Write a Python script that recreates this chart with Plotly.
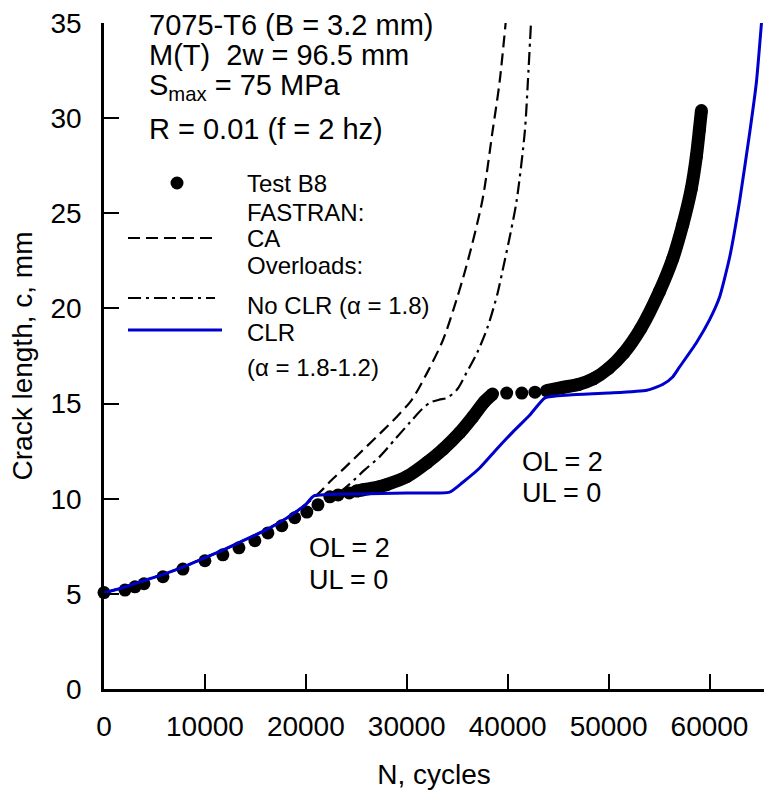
import plotly.graph_objects as go

# ---------------- data ----------------
# Test B8 - isolated dots
test_sparse_n = [0, 2080, 3070, 3960, 5840, 7820, 10000, 11780, 13370, 14950, 16240,
                 17620, 18900, 20100, 21200, 22380, 23200, 24300, 39900, 41400, 42700]
test_sparse_c = [5.07, 5.2, 5.37, 5.53, 5.9, 6.3, 6.74, 7.05, 7.42, 7.79, 8.2,
                 8.58, 9.0, 9.3, 9.68, 10.1, 10.2, 10.3, 15.55, 15.55, 15.6]
# Test B8 - densely recorded stretches
test_dense1_n = [25000, 25650, 27300, 28000, 30000, 32000, 33600, 35250, 36550, 37700, 38500]
test_dense1_c = [10.4, 10.47, 10.63, 10.74, 11.16, 11.9, 12.6, 13.47, 14.3, 15.1, 15.5]
test_dense2_n = [43850, 45450, 47000, 48500, 50000, 51500, 53200, 55050, 56350, 57350,
                 58200, 58700, 59000, 59200]
test_dense2_c = [15.68, 15.85, 16.0, 16.3, 16.85, 17.65, 18.95, 20.9, 22.6, 24.4,
                 26.3, 28.0, 29.4, 30.4]

# FASTRAN: CA
ca_n = [0, 2000, 4000, 6000, 8000, 10000, 12000, 14000, 16000, 18000, 20000, 21600,
        22400, 24000, 25650, 27300, 29000, 30500, 32000, 33560, 34600, 35900, 37500,
        38500, 39200, 39800]
ca_c = [5.05, 5.35, 5.7, 6.05, 6.45, 6.9, 7.35, 7.85, 8.35, 8.95, 9.7, 10.45,
        10.9, 11.7, 12.55, 13.4, 14.3, 15.2, 16.6, 18.3, 19.9, 22.2, 25.7,
        29.3, 31.9, 35.0]

# Overloads: No CLR (alpha = 1.8)
nclr_n = [0, 2000, 4000, 6000, 8000, 10000, 12000, 14000, 16000, 18000, 20000, 20800,
          22000, 23200, 24300, 25800, 27300, 28800, 30300, 31500, 32300, 33200, 34000,
          35000, 35900, 37000, 38000, 39000, 39500, 40300, 40900, 41700, 42000, 42300]
nclr_c = [5.05, 5.35, 5.7, 6.05, 6.45, 6.9, 7.35, 7.85, 8.35, 8.95, 9.7, 10.15,
          10.2, 10.3, 10.75, 11.5, 12.2, 13.1, 14.0, 14.7, 15.05, 15.2, 15.3,
          15.75, 16.6, 17.7, 19.0, 20.8, 22.0, 24.0, 25.7, 29.3, 31.9, 34.9]

# Overloads: CLR (alpha = 1.8-1.2)
clr_n = [0, 2000, 4000, 6000, 8000, 10000, 12000, 14000, 16000, 18000, 20000, 20800,
         25000, 30000, 34250, 35500, 37200, 38900, 40500, 42200, 43700, 46100, 50000,
         53800, 55350, 56350, 57000, 58700, 60000, 61000, 62000, 63000, 64000, 64650, 65150]
clr_c = [5.05, 5.35, 5.7, 6.05, 6.45, 6.9, 7.35, 7.85, 8.35, 8.95, 9.7, 10.15,
         10.25, 10.3, 10.35, 10.84, 11.6, 12.6, 13.5, 14.4, 15.3, 15.45, 15.55,
         15.7, 16.0, 16.4, 16.9, 18.2, 19.4, 20.6, 22.7, 25.7, 29.3, 31.9, 35.0]

x_ticks = [0, 10000, 20000, 30000, 40000, 50000, 60000]
y_ticks = [0, 5, 10, 15, 20, 25, 30, 35]

header_lines = ["7075-T6 (B = 3.2 mm)", "M(T)\u00a0 2w = 96.5 mm",
                "S<sub>max</sub> = 75 MPa", "R = 0.01 (f = 2 hz)"]
legend_lines = ["Test B8", "FASTRAN:", "CA", "Overloads:", "No CLR (\u03b1 = 1.8)",
                "CLR", "(\u03b1 = 1.8-1.2)"]

# ---------------- layout geometry ----------------
W, H = 764, 790
ML, MR, MT, MB = 104, 0, 23, 101
PW, PH = W - ML - MR, H - MT - MB
FONT = "Arial, Liberation Sans, sans-serif"
BLUE = "#0000cc"


def px(x):
    return (x - ML) / PW


def py(y):
    return (H - MB - y) / PH


fig = go.Figure()

# model curves
fig.add_trace(go.Scatter(x=ca_n, y=ca_c, mode="lines", cliponaxis=False,
                         line=dict(color="black", width=2.2, dash="12px,6px",
                                   shape="spline", smoothing=0.8)))
fig.add_trace(go.Scatter(x=nclr_n, y=nclr_c, mode="lines", cliponaxis=False,
                         line=dict(color="black", width=2.2, dash="13px,5px,3px,5px",
                                   shape="spline", smoothing=0.8)))

# test data
DOT = 13
for dn, dc in [(test_dense1_n, test_dense1_c), (test_dense2_n, test_dense2_c)]:
    fig.add_trace(go.Scatter(x=dn, y=dc, mode="lines+markers", cliponaxis=False,
                             line=dict(color="black", width=DOT, shape="spline",
                                       smoothing=0.8),
                             marker=dict(color="black", size=DOT)))
fig.add_trace(go.Scatter(x=test_sparse_n, y=test_sparse_c, mode="markers",
                         cliponaxis=False, marker=dict(color="black", size=DOT)))

fig.add_trace(go.Scatter(x=clr_n, y=clr_c, mode="lines", cliponaxis=False,
                         line=dict(color=BLUE, width=3, shape="spline", smoothing=0.5)))

annotations = []
header_y = [25, 55, 87, 129]
for t, yy in zip(header_lines, header_y):
    annotations.append(dict(text=t, x=px(147), y=py(yy), xref="paper", yref="paper",
                            xanchor="left", yanchor="middle", showarrow=False,
                            font=dict(family=FONT, size=29, color="black")))
legend_y = [183, 212, 238, 265, 305, 332, 367]
for t, yy in zip(legend_lines, legend_y):
    annotations.append(dict(text=t, x=px(245), y=py(yy), xref="paper", yref="paper",
                            xanchor="left", yanchor="middle", showarrow=False,
                            font=dict(family=FONT, size=24, color="black")))
# OL/UL labels
for (t, xx, yy) in [("OL = 2", 307, 548), ("UL = 0", 307, 580),
                    ("OL = 2", 520, 462), ("UL = 0", 520, 493)]:
    annotations.append(dict(text=t, x=px(xx), y=py(yy), xref="paper", yref="paper",
                            xanchor="left", yanchor="middle", showarrow=False,
                            font=dict(family=FONT, size=27, color="black")))

shapes = [
    dict(type="circle", xref="paper", yref="paper", xsizemode="pixel", ysizemode="pixel",
         xanchor=px(177), yanchor=py(183), x0=-6.5, x1=6.5, y0=-6.5, y1=6.5,
         fillcolor="black", line=dict(width=0)),
    dict(type="line", xref="paper", yref="paper", x0=px(128), x1=px(218),
         y0=py(238), y1=py(238), line=dict(color="black", width=2.2, dash="12px,6px")),
    dict(type="line", xref="paper", yref="paper", x0=px(128), x1=px(215),
         y0=py(298), y1=py(298), line=dict(color="black", width=2.2, dash="13px,5px,3px,5px")),
    dict(type="line", xref="paper", yref="paper", x0=px(128), x1=px(222),
         y0=py(330), y1=py(330), line=dict(color=BLUE, width=3)),
]

fig.update_layout(
    width=W, height=H, showlegend=False,
    margin=dict(l=ML, r=MR, t=MT, b=MB, pad=0, autoexpand=False),
    paper_bgcolor="white", plot_bgcolor="white",
    font=dict(family=FONT, size=28, color="black"),
    annotations=annotations, shapes=shapes,
    xaxis=dict(range=[0, 65400], tickvals=x_ticks, ticktext=[str(v) for v in x_ticks],
               ticks="inside", ticklen=15, tickwidth=2, tickcolor="black",
               showline=True, linewidth=2.5, linecolor="black", showgrid=False,
               zeroline=False, ticklabelstandoff=11, automargin=False,
               tickfont=dict(family=FONT, size=28),
               title=dict(text="N, cycles", font=dict(family=FONT, size=28), standoff=24)),
    yaxis=dict(range=[0, 35], tickvals=y_ticks, ticktext=[str(v) for v in y_ticks],
               ticks="inside", ticklen=15, tickwidth=2, tickcolor="black",
               showline=True, linewidth=2.5, linecolor="black", showgrid=False,
               zeroline=False, ticklabelstandoff=14, automargin=False,
               tickfont=dict(family=FONT, size=28),
               title=dict(text="Crack length, c, mm", font=dict(family=FONT, size=28),
                          standoff=10)),
)

fig.write_html("out.html", config={"displayModeBar": False},
               post_script="document.body.style.margin='0';"
                           "document.body.style.overflow='hidden';")
